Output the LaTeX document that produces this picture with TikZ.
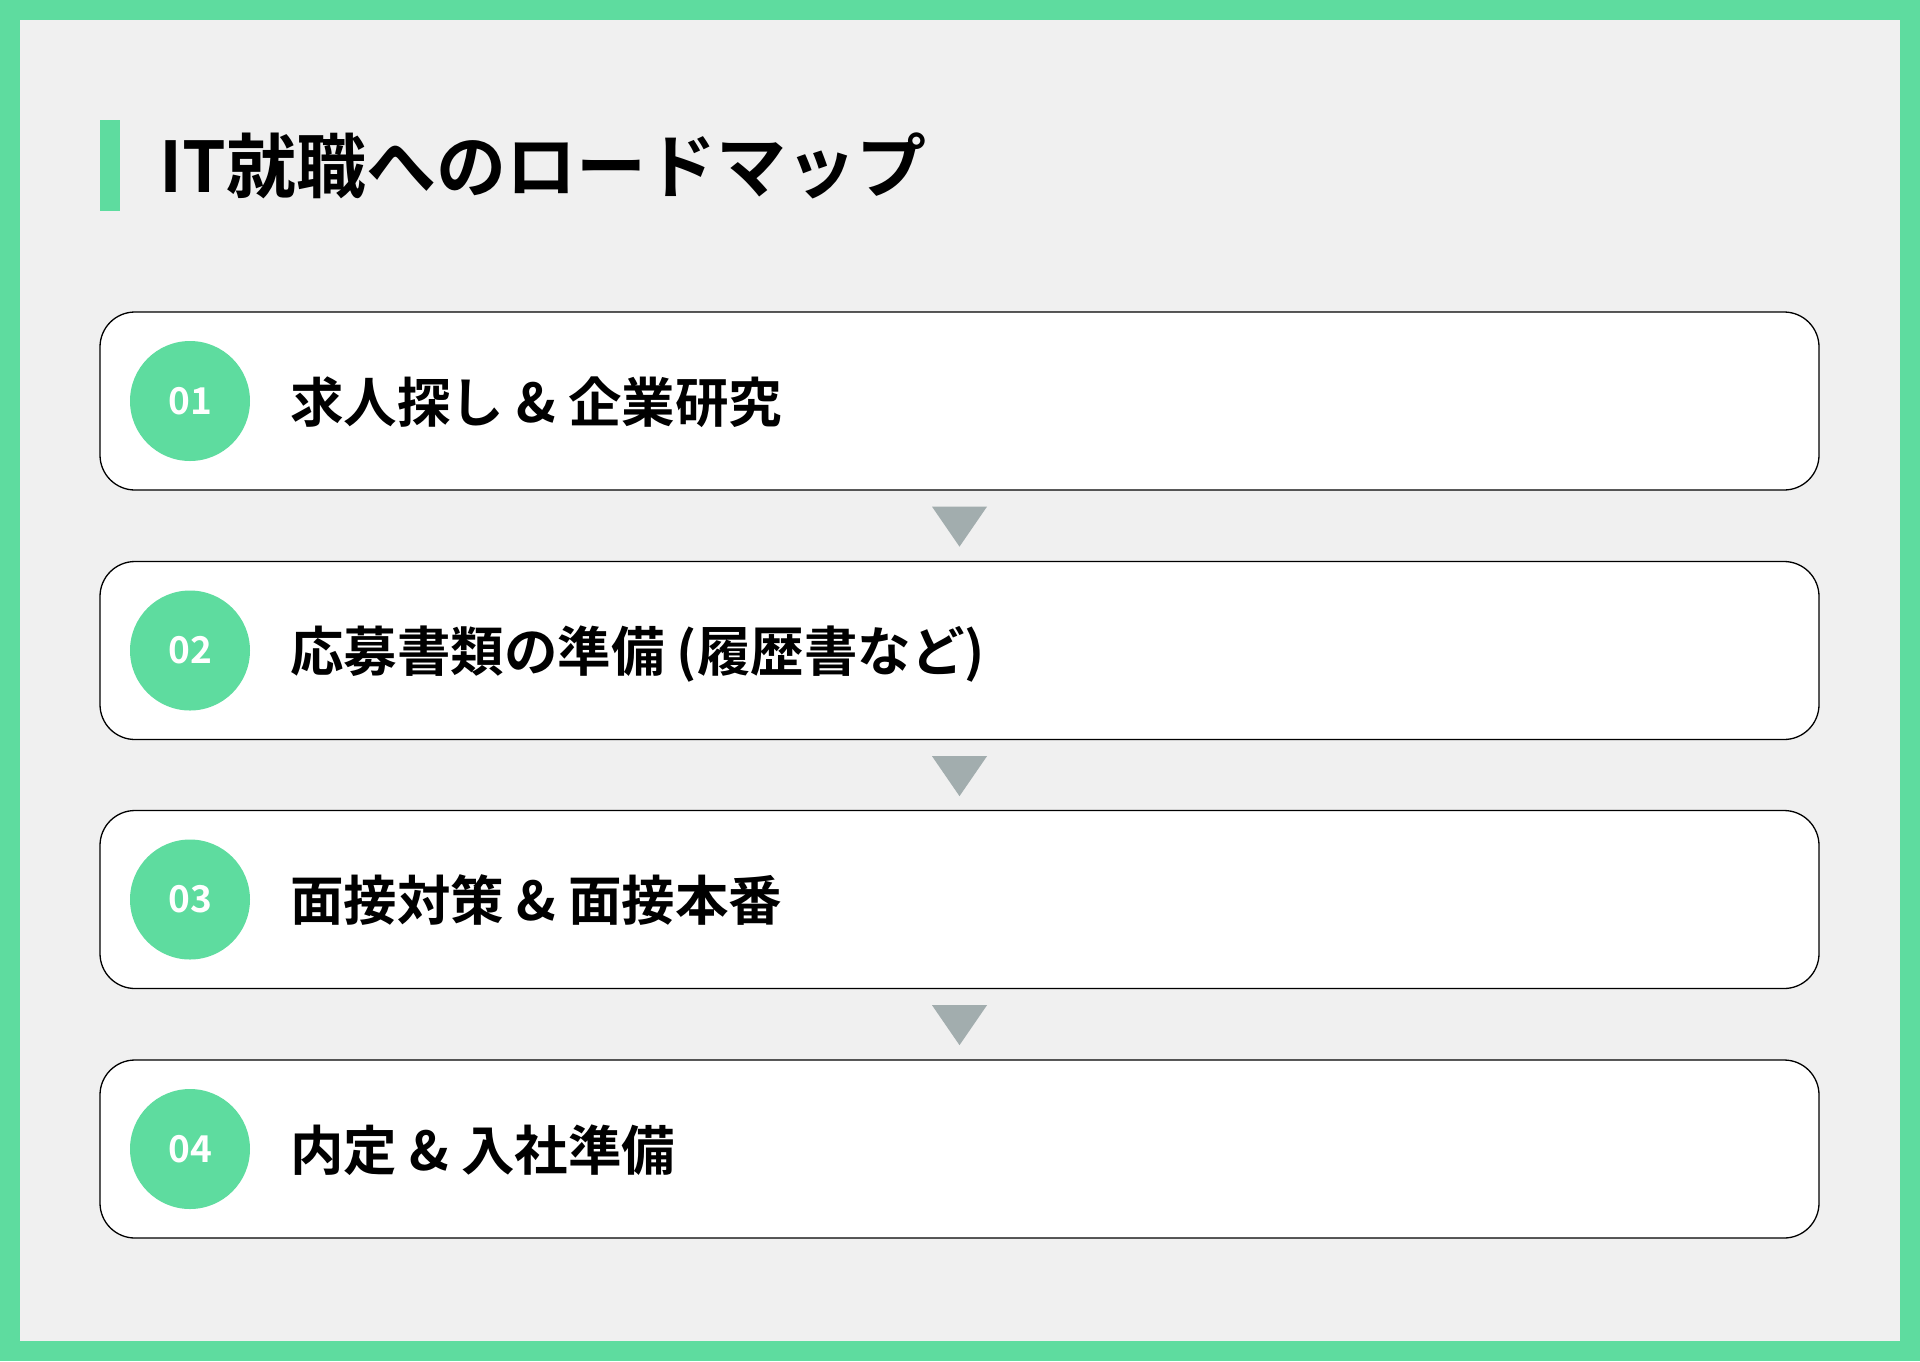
\documentclass[tikz,border=0pt]{standalone}
\usepackage{fontspec}
\usetikzlibrary{calc}
\newfontfamily\jp{Noto Sans CJK JP}[BoldFont={* Bold}]
\definecolor{brand}{HTML}{5EDC9F}
\definecolor{bgc}{HTML}{F0F0F0}
\definecolor{tric}{HTML}{A2ADAE}
\tikzset{
  stepbox/.style={draw=black, line width=1.3pt, fill=white, rounded corners=35pt,
    minimum width=1719pt, minimum height=178pt, inner sep=0pt},
  numcirc/.style={circle, fill=brand, minimum size=120pt, inner sep=0pt,
    text=white, font=\jp\bfseries\fontsize{37}{44}\selectfont},
  steptext/.style={anchor=base west, inner sep=0pt, text=black,
    font=\jp\bfseries\fontsize{53.5}{60}\selectfont},
  tri/.style={fill=tric}
}
\begin{document}
\begin{tikzpicture}[x=1pt,y=-1pt]
\useasboundingbox (0,0) rectangle (1920,1361);
\fill[brand] (0,0) rectangle (1920,1361);
\fill[bgc] (20,20) rectangle (1900,1341);
\fill[brand] (100,120) rectangle (120,211);
\node[anchor=base west, inner sep=0pt, font=\jp\bfseries\fontsize{70}{80}\selectfont] (title) at (159,192) {IT就職へのロードマップ};
\foreach \i/\cy/\num/\txt in {1/401/01/{求人探し \& 企業研究},2/650.5/02/{応募書類の準備 (履歴書など)},3/899.5/03/{面接対策 \& 面接本番},4/1149/04/{内定 \& 入社準備}}{
  \node[stepbox] (box\i) at (959.5,\cy) {};
  \node[numcirc] (c\i) at (190,\cy) {\num};
  \node[steptext] (t\i) at (290,\cy+21) {\txt};
}
\foreach \i in {1,2,3}{
  \fill[tri] ($(box\i.south)+(-27.5,16)$) -- ++(55,0) -- ++(-27.5,40) -- cycle;
}
\end{tikzpicture}
\end{document}
